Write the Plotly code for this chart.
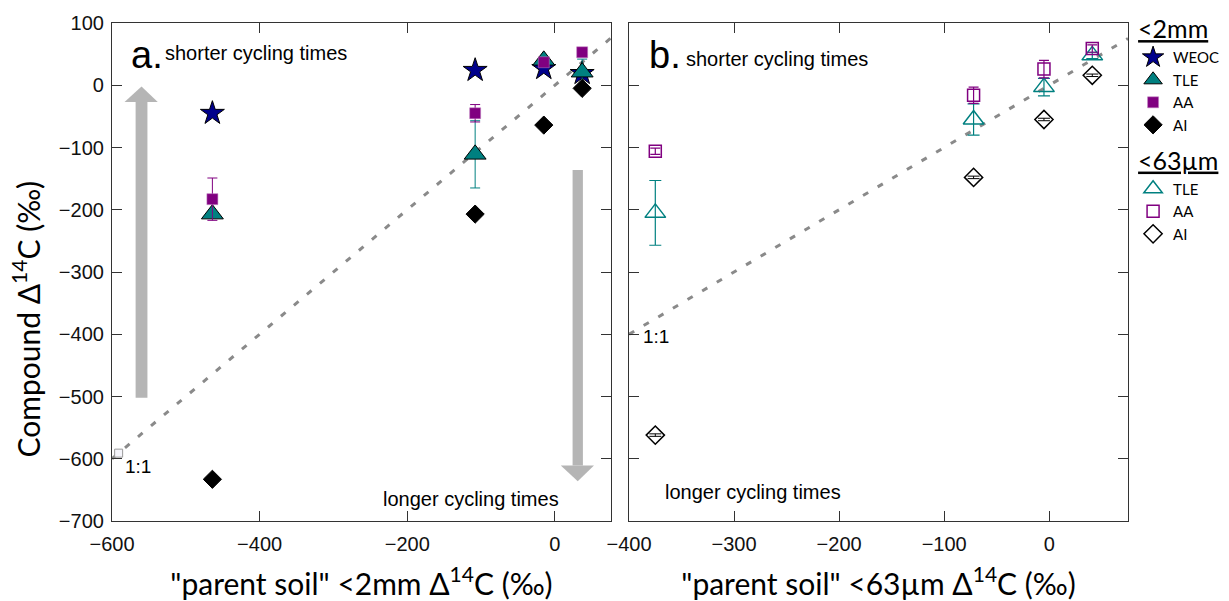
import plotly.graph_objects as go

# ---------------- data ----------------
# panel a: "parent soil" <2mm Δ14C (x) vs compound Δ14C (y)
a_x = [-464, -108, -15, 37]
a_weoc = [-45, 24, 27, 19]
a_tle = [-207, -111, 40, 21]
a_tle_err = [3, 54, 5, 21]
a_aa = [-183, -45, 37, 53]
a_aa_err = [34, 14, 5, 4]
a_ai = [-633, -207, -64, -5]

# panel b: "parent soil" <63µm Δ14C (x) vs compound Δ14C (y)
b_x = [-375, -72, -5, 41]
b_tle = [-205, -55, -3, 48]
b_tle_err = [52, 25, 14, 5]
b_aa = [-106, -16, 26, 59]
b_aa_err = [5, 13, 14, 6]
b_ai = [-562, -148, -55, 16]
b_ai_err = [2, 2, 2, 2]

xrange_a = [-600, 76]
xrange_b = [-400, 75]
yrange = [-700, 100]

NAVY = "#00008B"
TEAL = "#008080"
PURPLE = "#800080"
GRAY = "#8a8a8a"
ARROW = "#b5b5b5"
FONT_TXT = "Liberation Sans, Arial, sans-serif"
FONT_TITLE = "Lato, sans-serif"

fig = go.Figure()

# 1:1 lines
fig.add_trace(go.Scatter(x=xrange_a, y=xrange_a, mode="lines", xaxis="x", yaxis="y",
                         line=dict(color=GRAY, width=3, dash="6px,11px"),
                         showlegend=False, hoverinfo="skip"))
fig.add_trace(go.Scatter(x=xrange_b, y=xrange_b, mode="lines", xaxis="x2", yaxis="y2",
                         line=dict(color=GRAY, width=3, dash="6px,11px"),
                         showlegend=False, hoverinfo="skip"))
fig.add_trace(go.Scatter(x=[-591], y=[-591], mode="markers", xaxis="x", yaxis="y",
                         marker=dict(symbol="square", size=8, color="#f5f5fb",
                                     line=dict(color="#9a9a9a", width=1)),
                         showlegend=False, hoverinfo="skip"))

g1 = "<u>&lt;2mm</u>"
g2 = "<u>&lt;63µm</u>"
gt_font = dict(family=FONT_TITLE, size=25, color="black")

# panel a traces
fig.add_trace(go.Scatter(x=a_x, y=a_weoc, mode="markers", name="WEOC", xaxis="x", yaxis="y",
                         legendgroup="g1", legendgrouptitle=dict(text=g1, font=gt_font),
                         marker=dict(symbol="star", size=18, color=NAVY,
                                     line=dict(color="black", width=1))))
fig.add_trace(go.Scatter(x=a_x, y=a_tle, mode="markers", name="TLE", xaxis="x", yaxis="y",
                         legendgroup="g1",
                         error_y=dict(type="data", array=a_tle_err, color=TEAL, thickness=1, width=5),
                         marker=dict(symbol="triangle-up", size=19, color=TEAL,
                                     line=dict(color="black", width=1))))
fig.add_trace(go.Scatter(x=a_x, y=a_aa, mode="markers", name="AA", xaxis="x", yaxis="y",
                         legendgroup="g1",
                         error_y=dict(type="data", array=a_aa_err, color=PURPLE, thickness=1, width=5),
                         marker=dict(symbol="square", size=11, color=PURPLE,
                                     line=dict(color="#c080c0", width=0.5))))
fig.add_trace(go.Scatter(x=a_x, y=a_ai, mode="markers", name="AI", xaxis="x", yaxis="y",
                         legendgroup="g1",
                         marker=dict(symbol="diamond", size=14, color="black",
                                     line=dict(color="black", width=1))))

# panel b traces
fig.add_trace(go.Scatter(x=b_x, y=b_tle, mode="markers", name="TLE", xaxis="x2", yaxis="y2",
                         legendgroup="g2", legendgrouptitle=dict(text=g2, font=gt_font),
                         error_y=dict(type="data", array=b_tle_err, color=TEAL, thickness=1.2, width=6),
                         marker=dict(symbol="triangle-up-open", size=18, color=TEAL,
                                     line=dict(color=TEAL, width=1.5))))
fig.add_trace(go.Scatter(x=b_x, y=b_aa, mode="markers", name="AA", xaxis="x2", yaxis="y2",
                         legendgroup="g2",
                         error_y=dict(type="data", array=b_aa_err, color=PURPLE, thickness=1.2, width=5),
                         marker=dict(symbol="square-open", size=12, color=PURPLE,
                                     line=dict(color=PURPLE, width=1.5))))
fig.add_trace(go.Scatter(x=b_x, y=b_ai, mode="markers", name="AI", xaxis="x2", yaxis="y2",
                         legendgroup="g2",
                         error_y=dict(type="data", array=b_ai_err, color="black", thickness=1, width=6),
                         marker=dict(symbol="diamond-open", size=14, color="black",
                                     line=dict(color="black", width=1.5))))

# gray arrows (annotation graphics)
shapes = [
    dict(type="rect", xref="x", yref="y", x0=-568, x1=-552, y0=-502, y1=-27,
         fillcolor=ARROW, line=dict(width=0), layer="below"),
    dict(type="path", xref="x", yref="y", path="M -583 -27 L -538 -27 L -560 -2 Z",
         fillcolor=ARROW, line=dict(width=0), layer="below"),
    dict(type="rect", xref="x", yref="y", x0=24, x1=38, y0=-611, y1=-136,
         fillcolor=ARROW, line=dict(width=0), layer="below"),
    dict(type="path", xref="x", yref="y", path="M 8 -611 L 53 -611 L 31 -636 Z",
         fillcolor=ARROW, line=dict(width=0), layer="below"),
]

txt = dict(family=FONT_TXT, size=20, color="black")
small = dict(family=FONT_TXT, size=19, color="black")
big = dict(family=FONT_TXT, size=38, color="black")
annotations = [
    dict(text="a.", xref="x domain", yref="y domain", x=0.035, y=0.935, xanchor="left",
         yanchor="middle", showarrow=False, font=big),
    dict(text="shorter cycling times", xref="x domain", yref="y domain", x=0.103, y=0.94,
         xanchor="left", yanchor="middle", showarrow=False, font=txt),
    dict(text="longer cycling times", xref="x domain", yref="y domain", x=0.54, y=0.045,
         xanchor="left", yanchor="middle", showarrow=False, font=txt),
    dict(text="1:1", xref="x domain", yref="y domain", x=0.022, y=0.11,
         xanchor="left", yanchor="middle", showarrow=False, font=small),
    dict(text="b.", xref="x2 domain", yref="y2 domain", x=0.036, y=0.935, xanchor="left",
         yanchor="middle", showarrow=False, font=big),
    dict(text="shorter cycling times", xref="x2 domain", yref="y2 domain", x=0.11, y=0.927,
         xanchor="left", yanchor="middle", showarrow=False, font=txt),
    dict(text="longer cycling times", xref="x2 domain", yref="y2 domain", x=0.068, y=0.058,
         xanchor="left", yanchor="middle", showarrow=False, font=txt),
    dict(text="1:1", xref="x2 domain", yref="y2 domain", x=0.024, y=0.37,
         xanchor="left", yanchor="middle", showarrow=False, font=small),
    # y-axis title
    dict(text="Compound Δ<sup>14</sup>C (‰)", xref="paper", yref="paper", x=-0.0847, y=0.4066,
         xanchor="center", yanchor="middle", textangle=-90, showarrow=False,
         font=dict(family=FONT_TITLE, size=30, color="black")),
]

axis_common = dict(showgrid=False, zeroline=False, showline=True, linecolor="#333333",
                   linewidth=1.2, mirror="ticks", ticks="inside", ticklen=10,
                   tickcolor="#333333", tickwidth=1.2,
                   tickfont=dict(family=FONT_TXT, size=20, color="#111111"))

title_font = dict(family=FONT_TITLE, size=30, color="black")

fig.update_layout(
    width=1229, height=601,
    margin=dict(l=112, r=101, t=23, b=80, autoexpand=False),
    paper_bgcolor="white", plot_bgcolor="white",
    showlegend=True,
    legend=dict(x=1.005, y=1.035, xanchor="left", yanchor="top",
                font=dict(family=FONT_TITLE, size=15, color="black"),
                tracegroupgap=6, itemsizing="trace", bgcolor="rgba(0,0,0,0)"),
    xaxis=dict(domain=[0, 0.4911], range=xrange_a, tick0=-600, dtick=200, anchor="y",
               ticklabelstandoff=5,
               title=dict(text='"parent soil" &lt;2mm Δ<sup>14</sup>C (‰)', font=title_font, standoff=24),
               **axis_common),
    yaxis=dict(range=yrange, dtick=100, anchor="x", ticklabelstandoff=3, **axis_common),
    xaxis2=dict(domain=[0.5089, 1], range=xrange_b, tick0=-400, dtick=100, anchor="y2",
                ticklabelstandoff=5,
                title=dict(text='"parent soil" &lt;63µm Δ<sup>14</sup>C (‰)', font=title_font, standoff=24),
                **axis_common),
    yaxis2=dict(range=yrange, dtick=100, anchor="x2", showticklabels=False, **axis_common),
    shapes=shapes,
    annotations=annotations,
)

fig.write_html("out.html", config={"displayModeBar": False},
               post_script="document.body.style.margin='0';document.body.style.overflow='hidden';")
